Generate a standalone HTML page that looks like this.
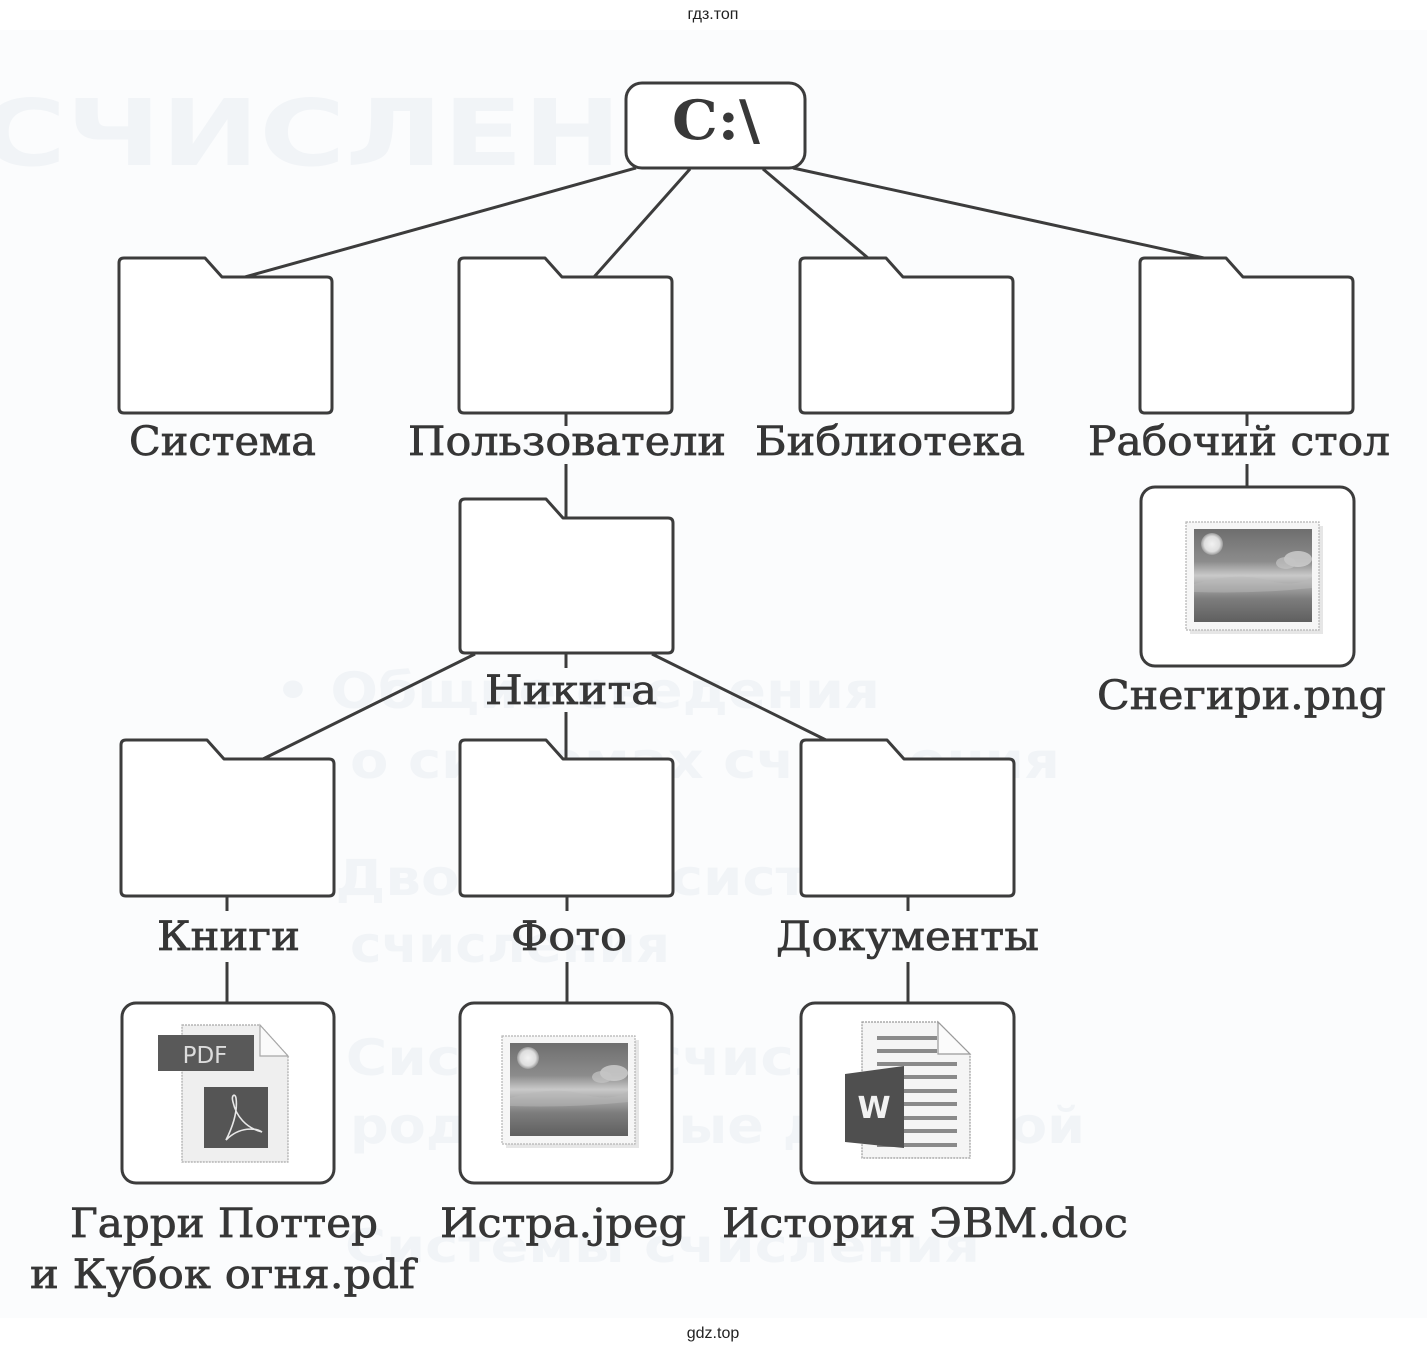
<!DOCTYPE html>
<html>
<head>
<meta charset="utf-8">
<style>
  html, body { margin: 0; padding: 0; background: #ffffff; }
  body { width: 1427px; height: 1354px; overflow: hidden; }
  svg { display: block; }
</style>
</head>
<body>
<svg width="1427" height="1354" viewBox="0 0 1427 1354" xmlns="http://www.w3.org/2000/svg">
  <defs>
    <linearGradient id="photo" x1="0" y1="0" x2="0" y2="1">
      <stop offset="0" stop-color="#6e6e6e"/>
      <stop offset="0.35" stop-color="#8c8c8c"/>
      <stop offset="0.5" stop-color="#c9c9c9"/>
      <stop offset="0.62" stop-color="#a3a3a3"/>
      <stop offset="0.75" stop-color="#7d7d7d"/>
      <stop offset="1" stop-color="#5f5f5f"/>
    </linearGradient>
    <radialGradient id="sun" cx="0.5" cy="0.5" r="0.5">
      <stop offset="0" stop-color="#f2f2f2"/>
      <stop offset="0.7" stop-color="#dedede"/>
      <stop offset="1" stop-color="#9a9a9a"/>
    </radialGradient>
    <g id="photoicon">
      <rect x="4" y="4" width="133" height="108" fill="#e6e6e6"/>
      <rect x="0" y="0" width="133" height="108" fill="#f6f6f6" stroke="#b5b5b5" stroke-width="1.2" stroke-dasharray="2 1"/>
      <rect x="8" y="7" width="118" height="93" fill="url(#photo)"/>
      <circle cx="26" cy="22" r="11" fill="url(#sun)"/>
      <ellipse cx="112" cy="37" rx="14" ry="8" fill="#cfcfcf" opacity="0.8"/>
      <ellipse cx="100" cy="41" rx="10" ry="6" fill="#c4c4c4" opacity="0.7"/>
      <path d="M8,62 Q50,50 80,58 T126,55 V66 Q70,72 8,70 Z" fill="#b9b9b9" opacity="0.5"/>
    </g>
  </defs>

  <!-- scanned page background -->
  <rect x="0" y="30" width="1427" height="1288" fill="#fbfcfd"/>

  <!-- faint bleed-through text -->
  <g font-family="'DejaVu Sans', 'Liberation Sans', sans-serif" font-weight="bold" fill="#f1f4f7">
    <text x="-20" y="165" font-size="92" textLength="830" lengthAdjust="spacingAndGlyphs">СЧИСЛЕНИЯ</text>
    <text x="275" y="708" font-size="50" textLength="605" lengthAdjust="spacingAndGlyphs">• Общие сведения</text>
    <text x="350" y="778" font-size="50" textLength="710" lengthAdjust="spacingAndGlyphs">о системах счисления</text>
    <text x="280" y="895" font-size="50" textLength="650" lengthAdjust="spacingAndGlyphs">• Двоичная система</text>
    <text x="350" y="962" font-size="50" textLength="320" lengthAdjust="spacingAndGlyphs">счисления</text>
    <text x="290" y="1075" font-size="50" textLength="720" lengthAdjust="spacingAndGlyphs">• Системы счисления,</text>
    <text x="350" y="1143" font-size="50" textLength="735" lengthAdjust="spacingAndGlyphs">родственные двоичной</text>
    <text x="345" y="1262" font-size="46" textLength="635" lengthAdjust="spacingAndGlyphs">Системы счисления</text>
  </g>

  <!-- watermarks -->
  <text x="713" y="19" font-family="'Liberation Sans', sans-serif" font-size="16" fill="#222" text-anchor="middle">гдз.топ</text>
  <text x="713" y="1338" font-family="'Liberation Sans', sans-serif" font-size="16" fill="#222" text-anchor="middle">gdz.top</text>

  <!-- connectors -->
  <g stroke="#3c3c3c" stroke-width="3" fill="none" stroke-linecap="butt">
    <line x1="636" y1="168" x2="245" y2="277"/>
    <line x1="690" y1="169" x2="594" y2="277"/>
    <line x1="763" y1="169" x2="868" y2="258"/>
    <line x1="793" y1="168" x2="1204" y2="258"/>
    <line x1="566" y1="413" x2="566" y2="426"/>
    <line x1="566" y1="464" x2="566" y2="519"/>
    <line x1="1247" y1="413" x2="1247" y2="426"/>
    <line x1="1247" y1="464" x2="1247" y2="487"/>
    <line x1="475" y1="654" x2="263" y2="759"/>
    <line x1="566" y1="653" x2="566" y2="668"/>
    <line x1="566" y1="712" x2="566" y2="759"/>
    <line x1="652" y1="654" x2="826" y2="740"/>
    <line x1="227" y1="896" x2="227" y2="911"/>
    <line x1="227" y1="962" x2="227" y2="1003"/>
    <line x1="567" y1="896" x2="567" y2="911"/>
    <line x1="567" y1="962" x2="567" y2="1003"/>
    <line x1="908" y1="896" x2="908" y2="911"/>
    <line x1="908" y1="962" x2="908" y2="1003"/>
  </g>

  <!-- root box -->
  <rect x="626" y="83" width="179" height="85" rx="16" ry="16" fill="#ffffff" stroke="#3c3c3c" stroke-width="3"/>
  <text x="672" y="139" font-family="'DejaVu Serif', 'Liberation Serif', serif" font-weight="bold" font-size="54" fill="#383838" textLength="88" lengthAdjust="spacingAndGlyphs">C:\</text>

  <!-- folders -->
  <g fill="#ffffff" stroke="#3c3c3c" stroke-width="3" stroke-linejoin="round">
    <path d="M119,263 Q119,258 124,258 H205 L222,277 H327 Q332,277 332,282 V408 Q332,413 327,413 H124 Q119,413 119,408 Z"/>
    <path d="M459,263 Q459,258 464,258 H545 L562,277 H667 Q672,277 672,282 V408 Q672,413 667,413 H464 Q459,413 459,408 Z"/>
    <path d="M800,263 Q800,258 805,258 H886 L903,277 H1008 Q1013,277 1013,282 V408 Q1013,413 1008,413 H805 Q800,413 800,408 Z"/>
    <path d="M1140,263 Q1140,258 1145,258 H1226 L1243,277 H1348 Q1353,277 1353,282 V408 Q1353,413 1348,413 H1145 Q1140,413 1140,408 Z"/>
    <path d="M460,504 Q460,499 465,499 H546 L563,518 H668 Q673,518 673,523 V648 Q673,653 668,653 H465 Q460,653 460,648 Z"/>
    <path d="M121,745 Q121,740 126,740 H207 L224,759 H329 Q334,759 334,764 V891 Q334,896 329,896 H126 Q121,896 121,891 Z"/>
    <path d="M460,745 Q460,740 465,740 H546 L563,759 H668 Q673,759 673,764 V891 Q673,896 668,896 H465 Q460,896 460,891 Z"/>
    <path d="M801,745 Q801,740 806,740 H887 L904,759 H1009 Q1014,759 1014,764 V891 Q1014,896 1009,896 H806 Q801,896 801,891 Z"/>
  </g>

  <!-- file boxes -->
  <g fill="#ffffff" stroke="#3c3c3c" stroke-width="3">
    <rect x="1141" y="487" width="213" height="179" rx="14" ry="14"/>
    <rect x="122" y="1003" width="212" height="180" rx="14" ry="14"/>
    <rect x="460" y="1003" width="212" height="180" rx="14" ry="14"/>
    <rect x="801" y="1003" width="213" height="180" rx="14" ry="14"/>
  </g>

  <!-- photo icons -->
  <use href="#photoicon" x="1186" y="522"/>
  <use href="#photoicon" x="502" y="1036"/>

  <!-- PDF icon -->
  <g>
    <path d="M182,1025 H260 L288,1056 V1162 H182 Z" fill="#efefef" stroke="#a8a8a8" stroke-width="1.2" stroke-dasharray="2 1"/>
    <path d="M260,1025 V1056 H288 Z" fill="#fafafa" stroke="#a8a8a8" stroke-width="1.2"/>
    <rect x="158" y="1035" width="96" height="36" fill="#595959"/>
    <text x="205" y="1063" font-family="'DejaVu Sans', 'Liberation Sans', sans-serif" font-size="23" fill="#dcdcdc" text-anchor="middle">PDF</text>
    <rect x="204" y="1087" width="64" height="61" fill="#555555"/>
    <path d="M226,1140 C232,1128 238,1112 236,1098 C235,1093 231,1095 233,1102 C236,1116 246,1128 262,1132 C256,1128 240,1126 226,1140 Z" fill="none" stroke="#e8e8e8" stroke-width="1.6"/>
  </g>

  <!-- Word icon -->
  <g>
    <path d="M862,1022 H938 L970,1054 V1158 H862 Z" fill="#f5f5f5" stroke="#9a9a9a" stroke-width="1.2" stroke-dasharray="2 1"/>
    <path d="M938,1022 V1054 H970 Z" fill="#fbfbfb" stroke="#9a9a9a" stroke-width="1.2"/>
    <g stroke="#8a8a8a" stroke-width="4">
      <line x1="877" y1="1038" x2="937" y2="1038"/>
      <line x1="877" y1="1051" x2="937" y2="1051"/>
      <line x1="877" y1="1064" x2="957" y2="1064"/>
      <line x1="877" y1="1077" x2="957" y2="1077"/>
      <line x1="877" y1="1091" x2="957" y2="1091"/>
      <line x1="877" y1="1104" x2="957" y2="1104"/>
      <line x1="877" y1="1118" x2="957" y2="1118"/>
      <line x1="877" y1="1131" x2="957" y2="1131"/>
      <line x1="877" y1="1145" x2="957" y2="1145"/>
    </g>
    <polygon points="845,1074 904,1066 904,1148 845,1142" fill="#4f4f4f"/>
    <text x="874" y="1118" font-family="'DejaVu Sans', 'Liberation Sans', sans-serif" font-weight="bold" font-size="30" fill="#f2f2f2" text-anchor="middle">W</text>
  </g>

  <!-- labels -->
  <g font-family="'DejaVu Serif', 'Liberation Serif', serif" font-size="40" fill="#363636" stroke="#363636" stroke-width="0.7">
    <text x="129" y="455" textLength="187" lengthAdjust="spacingAndGlyphs">Система</text>
    <text x="408" y="455" textLength="318" lengthAdjust="spacingAndGlyphs">Пользователи</text>
    <text x="755" y="455" textLength="270" lengthAdjust="spacingAndGlyphs">Библиотека</text>
    <text x="1088" y="455" textLength="302" lengthAdjust="spacingAndGlyphs">Рабочий стол</text>
    <text x="485" y="704" textLength="172" lengthAdjust="spacingAndGlyphs">Никита</text>
    <text x="1097" y="709" textLength="289" lengthAdjust="spacingAndGlyphs">Снегири.png</text>
    <text x="157" y="950" textLength="143" lengthAdjust="spacingAndGlyphs">Книги</text>
    <text x="511" y="950" textLength="116" lengthAdjust="spacingAndGlyphs">Фото</text>
    <text x="776" y="950" textLength="263" lengthAdjust="spacingAndGlyphs">Документы</text>
    <text x="70" y="1237" textLength="308" lengthAdjust="spacingAndGlyphs">Гарри Поттер</text>
    <text x="30" y="1288" textLength="385" lengthAdjust="spacingAndGlyphs">и Кубок огня.pdf</text>
    <text x="440" y="1237" textLength="246" lengthAdjust="spacingAndGlyphs">Истра.jpeg</text>
    <text x="722" y="1237" textLength="406" lengthAdjust="spacingAndGlyphs">История ЭВМ.doc</text>
  </g>
</svg>
</body>
</html>
